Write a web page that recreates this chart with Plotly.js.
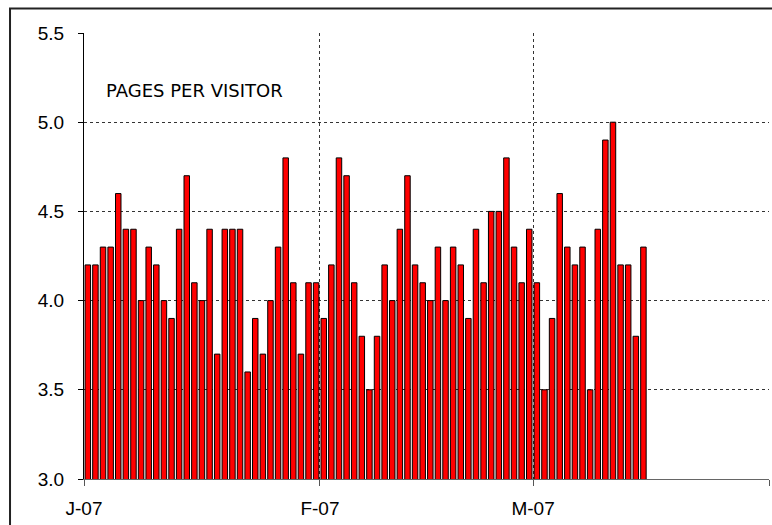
<!DOCTYPE html>
<html>
<head>
<meta charset="utf-8">
<script src="https://cdn.plot.ly/plotly-3.0.1.min.js"></script>
<style>
  html, body { margin: 0; padding: 0; background: #ffffff; }
  #chart { width: 772px; height: 525px; }
</style>
</head>
<body>
<div id="chart"></div>
<script>
// Daily pages per visitor, 2007
const janValues = [4.2, 4.2, 4.3, 4.3, 4.6, 4.4, 4.4, 4.0, 4.3, 4.2, 4.0, 3.9, 4.4, 4.7, 4.1, 4.0,
                   4.4, 3.7, 4.4, 4.4, 4.4, 3.6, 3.9, 3.7, 4.0, 4.3, 4.8, 4.1, 3.7, 4.1, 4.1];
const febValues = [3.9, 4.2, 4.8, 4.7, 4.1, 3.8, 3.5, 3.8, 4.2, 4.0, 4.4, 4.7, 4.2, 4.1, 4.0, 4.3,
                   4.0, 4.3, 4.2, 3.9, 4.4, 4.1, 4.5, 4.5, 4.8, 4.3, 4.1, 4.4];
const marValues = [4.1, 3.5, 3.9, 4.6, 4.3, 4.2, 4.3, 3.5, 4.4, 4.9, 5.0, 4.2, 4.2, 3.8, 4.3];
const months = ['2007-01', '2007-02', '2007-03'];

const tickDates = ['2007-01-01', '2007-02-01', '2007-03-01', '2007-04-01'];
const tickLabels = ['J-07', 'F-07', 'M-07', ''];
const yTicks = [3.0, 3.5, 4.0, 4.5, 5.0, 5.5];
const chartLabel = 'PAGES PER VISITOR';

const dates = [];
const values = [];
[janValues, febValues, marValues].forEach(function (arr, m) {
  arr.forEach(function (v, i) {
    const d = String(i + 1).padStart(2, '0');
    dates.push(months[m] + '-' + d);
    values.push(v);
  });
});

const trace = {
  type: 'bar',
  x: dates,
  y: values,
  xperiod: 86400000,
  xperiodalignment: 'middle',
  marker: { color: '#ff0000', line: { color: '#000000', width: 1 } },
  hoverinfo: 'x+y'
};

const layout = {
  width: 772,
  height: 525,
  margin: { l: 84, r: 3, t: 33, b: 46 },
  paper_bgcolor: '#ffffff',
  plot_bgcolor: '#ffffff',
  showlegend: false,
  bargap: 0.28,
  font: { family: 'Liberation Sans, Arial, sans-serif', size: 19, color: '#000000' },
  xaxis: {
    type: 'date',
    range: ['2007-01-01', '2007-04-01'],
    tickmode: 'array',
    tickvals: tickDates,
    ticktext: tickLabels,
    ticks: 'outside',
    ticklen: 6,
    tickcolor: '#555555',
    tickwidth: 1,
    ticklabelstandoff: 6,
    showline: true,
    linecolor: '#666666',
    linewidth: 1,
    showgrid: true,
    gridcolor: '#333333',
    griddash: '3px,3px',
    gridwidth: 1,
    zeroline: false,
    fixedrange: true
  },
  yaxis: {
    range: [3.0, 5.5],
    tickmode: 'array',
    tickvals: yTicks,
    ticktext: yTicks.map(function (v) { return v.toFixed(1); }),
    ticks: 'outside',
    ticklen: 5,
    tickcolor: '#000000',
    ticklabelstandoff: 10,
    showline: true,
    linecolor: '#000000',
    linewidth: 1,
    showgrid: true,
    gridcolor: '#333333',
    griddash: '3px,3px',
    gridwidth: 1,
    zeroline: false,
    fixedrange: true
  },
  annotations: [{
    xref: 'paper', yref: 'paper',
    x: 0.029, y: 0.872,
    xanchor: 'left', yanchor: 'middle',
    text: chartLabel,
    showarrow: false,
    font: { family: 'DejaVu Sans, Verdana, sans-serif', size: 18, color: '#000000' }
  }],
  shapes: [{
    type: 'rect', xref: 'paper', yref: 'paper', layer: 'above',
    x0: -0.108, x1: 1.2, y0: -0.3, y1: 1.055,
    line: { color: '#222222', width: 2 },
    fillcolor: 'rgba(0,0,0,0)'
  }]
};

Plotly.newPlot('chart', [trace], layout, { displayModeBar: false, staticPlot: true });
</script>
</body>
</html>
